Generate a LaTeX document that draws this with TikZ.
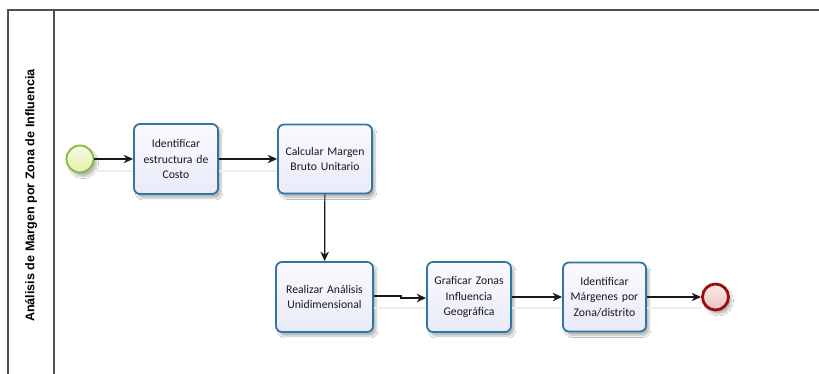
\documentclass[tikz,border=0pt]{standalone}
\usepackage{fontspec}
\setmainfont{Carlito}
\newfontfamily\titlefont{Liberation Sans}
\usetikzlibrary{arrows.meta,shadows.blur}
\definecolor{taskblue}{RGB}{46,118,163}
\definecolor{taskfillA}{RGB}{250,250,255}
\definecolor{taskfillB}{RGB}{232,234,248}
\definecolor{startgreen}{RGB}{128,186,60}
\definecolor{startfillA}{RGB}{248,252,226}
\definecolor{startfillB}{RGB}{226,240,170}
\definecolor{endred}{RGB}{160,12,12}
\definecolor{endfillA}{RGB}{250,232,232}
\definecolor{endfillB}{RGB}{238,196,196}
\definecolor{poolgray}{RGB}{80,80,80}
\tikzset{
  softshadow/.style={blur shadow={shadow xshift=3pt,shadow yshift=-4pt,shadow blur steps=6,shadow opacity=28}},
  task/.style={draw=taskblue, line width=1.8pt, rounded corners=6pt,
    top color=taskfillA, bottom color=taskfillB, softshadow,
    align=center, text=black!90, font=\fontsize{11.7}{15.5}\selectfont, inner sep=2pt},
  startev/.style={circle, draw=startgreen, line width=1.8pt, minimum size=27pt, inner sep=0pt,
    top color=startfillA, bottom color=startfillB, softshadow},
  endev/.style={circle, draw=endred, line width=2.8pt, minimum size=26pt, inner sep=0pt,
    top color=endfillA, bottom color=endfillB, softshadow},
  flow/.style={draw=black!90, line width=1.2pt, -{Stealth[length=9.5pt,width=8.5pt]}},
  flowshadow/.style={draw=black!7, line width=1.2pt},
  pool/.style={draw=poolgray, line width=1.3pt},
}
\begin{document}
\begin{tikzpicture}[x=1pt,y=-1pt]
\useasboundingbox (0,0) rectangle (819,374);
\fill[white] (0,0) rectangle (819,374);

% pool and lane header
\draw[pool] (8,374) -- (8,10) -- (819,10);
\draw[pool] (54,10) -- (54,374);
\node[rotate=90, font=\titlefont\bfseries\fontsize{12.6}{14}\selectfont, text=black] (title) at (31,195.5)
  {Análisis de Margen por Zona de Influencia};

% events and tasks
\node[startev] (s) at (80,159) {};
\node[task, minimum width=84pt, minimum height=70pt, text width=78pt] (b1) at (176,159)
  {Identificar\\estructura de\\Costo};
\node[task, minimum width=94pt, minimum height=69pt, text width=88pt] (b2) at (325,159)
  {Calcular Margen\\Bruto Unitario};
\node[task, minimum width=97pt, minimum height=70pt, text width=91pt] (b3) at (324.5,297)
  {Realizar Análisis\\Unidimensional};
\node[task, minimum width=84pt, minimum height=70pt, text width=80pt] (b4) at (469,297)
  {Graficar Zonas\\Influencia\\Geográfica};
\node[task, minimum width=83pt, minimum height=69pt, text width=79pt] (b5) at (604.5,297)
  {Identificar\\Márgenes por\\Zona/distrito};
\node[endev] (e) at (715.5,297) {};

% faint connector shadows
\draw[flowshadow] ([yshift=-12pt]s.east) -- ([yshift=-12pt]b1.west);
\draw[flowshadow] ([yshift=-12pt]b1.east) -- ([yshift=-12pt]b2.west);
\draw[flowshadow] ([yshift=-11pt]b3.east) -- ([yshift=-11pt]b4.west);
\draw[flowshadow] ([yshift=-11pt]b4.east) -- ([yshift=-11pt]b5.west);
\draw[flowshadow] ([yshift=-11pt]b5.east) -- ([yshift=-11pt]e.west);

% sequence flows
\draw[flow] (s) -- (b1);
\draw[flow] (b1) -- (b2);
\draw[flow] (b2) -- (b3);
\draw[flow] ([yshift=1pt]b3.east) -- ++(27,0) |- ([yshift=-1pt]b4.west);
\draw[flow] (b4) -- (b5);
\draw[flow] (b5) -- (e);
\end{tikzpicture}
\end{document}
